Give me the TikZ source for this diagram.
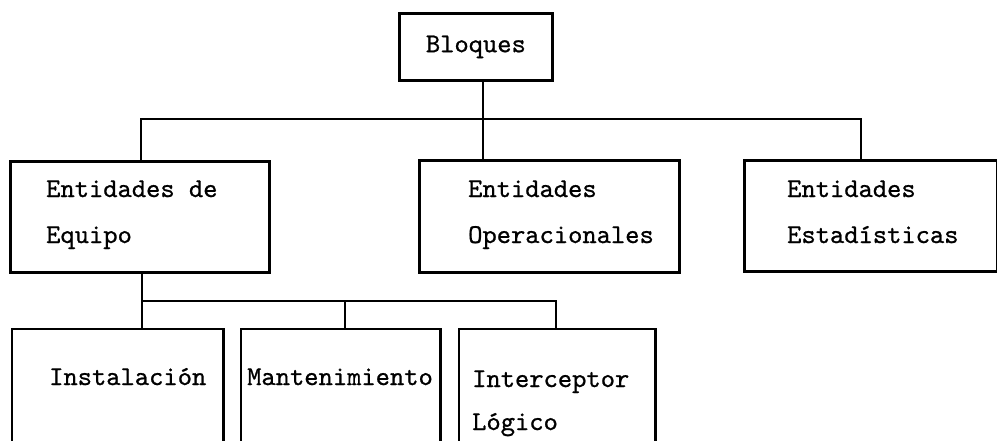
\documentclass[tikz,border=0pt]{standalone}
\usepackage{fontspec}
\newfontfamily\typew[FakeBold=0.8]{lmmono10-regular.otf}
\begin{document}
\begin{tikzpicture}[x=1pt,y=-1pt,
  frame/.style={draw,line width=2.8pt,inner sep=0pt,anchor=north west},
  openframe/.style={inner sep=0pt,anchor=north west},
  lbl/.style={anchor=base west,inner sep=0pt},
  conn/.style={line width=2.8pt},
  every node/.append style={font=\typew\fontsize{27.2pt}{32pt}\selectfont}]
\useasboundingbox (0,0) rectangle (997,440);
% top
\node[frame,minimum width=153pt,minimum height=67pt] (bloq) at (398,12) {Bloques};
% second level
\node[frame,minimum width=259pt,minimum height=111pt] (equi) at (9,160) {};
\node[frame,minimum width=260pt,minimum height=112pt] (oper) at (418,159) {};
\node[frame,minimum width=253pt,minimum height=111pt] (esta) at (743,159) {};
\node[lbl] (equiA) at (46,197) {Entidades de};
\node[lbl] (equiB) at (46,243) {Equipo};
\node[lbl] (operA) at (468,197) {Entidades};
\node[lbl] (operB) at (468,243) {Operacionales};
\node[lbl] (estaA) at (787,197) {Entidades};
\node[lbl] (estaB) at (787,243) {Estadísticas};
% third level (open at bottom)
\node[openframe,minimum width=211pt,minimum height=113pt] (inst) at (12,329) {};
\node[openframe,minimum width=199pt,minimum height=113pt] (mant) at (241,329) {};
\node[openframe,minimum width=196pt,minimum height=113pt] (inte) at (459,329) {};
\draw[conn] (inst.south west) |- (inst.north east) -- (inst.south east);
\draw[conn] (mant.south west) |- (mant.north east) -- (mant.south east);
\draw[conn] (inte.south west) |- (inte.north east) -- (inte.south east);
\node[lbl] (instA) at (49,385) {Instalación};
\node[lbl] (mantA) at (247,385) {Mantenimiento};
\node[lbl] (inteA) at (472,387) {Interceptor};
\node[lbl] (inteB) at (472,430) {Lógico};
% junctions
\coordinate (busT) at (483,119);
\coordinate (xEq) at (141,0);
\coordinate (xEs) at (861,0);
\coordinate (busB) at (142,301);
\coordinate (xMa) at (345,0);
\coordinate (xIn) at (556,0);
% connectors
\draw[conn] (bloq.south -| busT) -- (oper.north -| busT);
\draw[conn] (equi.north -| xEq) |- (busT) -| (esta.north -| xEs);
\draw[conn] (equi.south -| busB) -- (inst.north -| busB);
\draw[conn] (busB) -| (inte.north -| xIn);
\draw[conn] (mant.north -| xMa) -- (busB -| xMa);
\end{tikzpicture}
\end{document}
